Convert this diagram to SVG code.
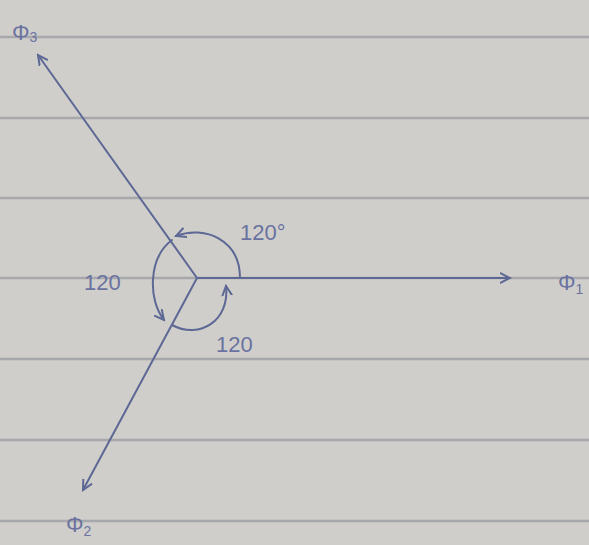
<svg xmlns="http://www.w3.org/2000/svg" width="589" height="545" viewBox="0 0 589 545">
<style>
.rule{stroke:#a7a8ab;stroke-width:2.5}
.ink{stroke:#5d6894;stroke-width:2;fill:none;stroke-linecap:round}
.lbl{font-family:"Liberation Sans",sans-serif;fill:#6a72a0;font-size:22px}
.sub{font-size:14px}
</style>
<defs>
<marker id="ah" viewBox="0 0 12 12" refX="10" refY="6" markerWidth="12" markerHeight="12" markerUnits="userSpaceOnUse" orient="auto">
<path d="M0,1 L10,6 L0,11" fill="none" stroke="#5d6894" stroke-width="2"/>
</marker>
</defs>
<rect width="589" height="545" fill="#d0cecb"/>
<g id="paper">
<line class="rule" x1="0" y1="37" x2="589" y2="37"/>
<line class="rule" x1="0" y1="118" x2="589" y2="118"/>
<line class="rule" x1="0" y1="198" x2="589" y2="198"/>
<line class="rule" x1="0" y1="278" x2="589" y2="278"/>
<line class="rule" x1="0" y1="359" x2="589" y2="359"/>
<line class="rule" x1="0" y1="440" x2="589" y2="440"/>
<line class="rule" x1="0" y1="521" x2="589" y2="521"/>
</g>
<g id="connectors">
<line class="ink" x1="197" y1="278" x2="510" y2="278" marker-end="url(#ah)"/>
<line class="ink" x1="197" y1="278" x2="38" y2="55" marker-end="url(#ah)"/>
<line class="ink" x1="197" y1="278" x2="83" y2="490" marker-end="url(#ah)"/>
<path class="ink" d="M240,278 C240,240 205,225 176,236" marker-end="url(#ah)"/>
<path class="ink" d="M172,240 C148,258 148,300 164,320" marker-end="url(#ah)"/>
<path class="ink" d="M172,325 C200,340 230,320 226,286" marker-end="url(#ah)"/>
</g>
<g id="phi1"><text class="lbl" x="558" y="290">Φ<tspan class="sub" dy="4">1</tspan></text></g>
<g id="phi2"><text class="lbl" x="66" y="532">Φ<tspan class="sub" dy="4">2</tspan></text></g>
<g id="phi3"><text class="lbl" x="12" y="40">Φ<tspan class="sub" dy="2">3</tspan></text></g>
<g id="a1"><text class="lbl" x="240" y="240" font-size="18">120°</text></g>
<g id="a2"><text class="lbl" x="84" y="290" font-size="16">120</text></g>
<g id="a3"><text class="lbl" x="216" y="352" font-size="18">120</text></g>
</svg>
